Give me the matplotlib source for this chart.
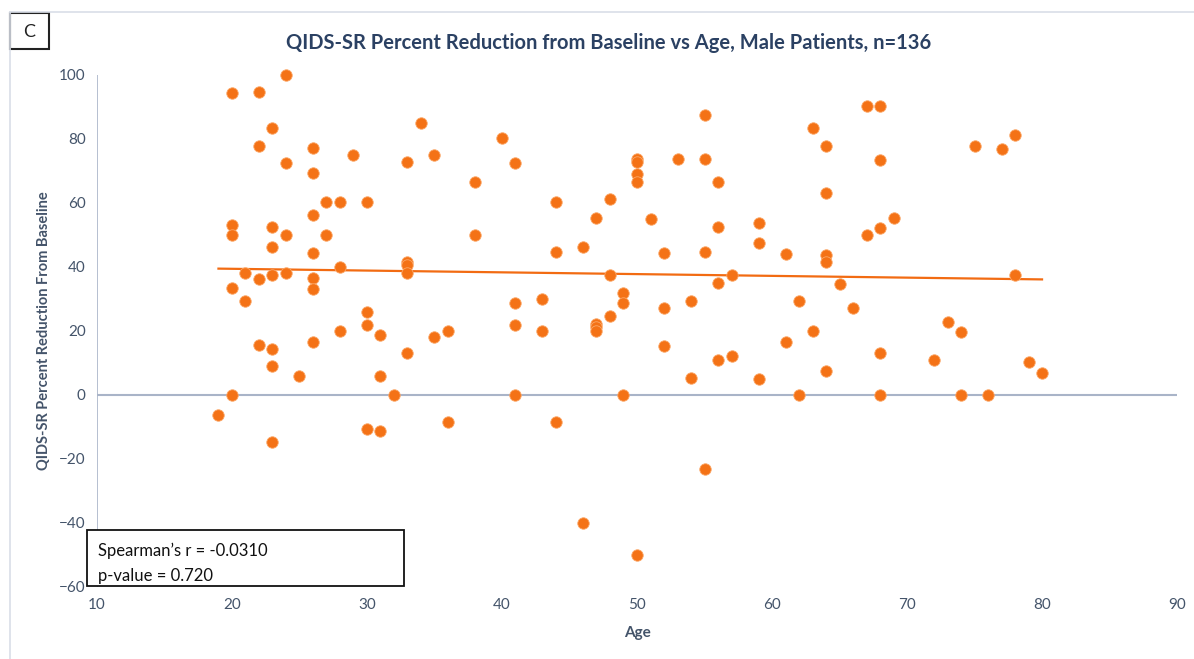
import numpy as np
import matplotlib.pyplot as plt
from matplotlib.patches import Rectangle
from matplotlib.lines import Line2D

# age of each male patient and QIDS-SR percent reduction from baseline
age = [19,
       20, 20, 20, 20, 20,
       21, 21,
       22, 22, 22, 22,
       23, 23, 23, 23, 23, 23, 23,
       24, 24, 24, 24,
       25,
       26, 26, 26, 26, 26, 26, 26,
       27, 27,
       28, 28, 28,
       29,
       30, 30, 30, 30,
       31, 31, 31,
       32,
       33, 33, 33, 33, 33,
       34,
       35, 35,
       36, 36,
       38, 38,
       40,
       41, 41, 41, 41,
       43, 43,
       44, 44, 44,
       46, 46,
       47, 47, 47, 47,
       48, 48, 48,
       49, 49, 49,
       50, 50, 50, 50, 50,
       51,
       52, 52, 52,
       53,
       54, 54,
       55, 55, 55, 55,
       56, 56, 56, 56,
       57, 57,
       59, 59, 59,
       61, 61,
       62, 62,
       63, 63,
       64, 64, 64, 64, 64,
       65,
       66,
       67, 67,
       68, 68, 68, 68, 68,
       69,
       72,
       73,
       74, 74,
       75,
       76,
       77,
       78, 78,
       79,
       80]

reduction = [-6.3,
             94.4, 53.1, 50.0, 33.3, 0.0,
             38.0, 29.4,
             94.7, 77.8, 36.2, 15.6,
             83.4, 52.5, 46.2, 37.5, 14.3, 9.0, -14.6,
             100.0, 72.5, 50.0, 38.0,
             5.9,
             77.2, 69.4, 56.2, 44.4, 36.6, 33.0, 16.7,
             60.3, 50.0,
             60.3, 40.0, 20.0,
             75.0,
             60.3, 26.0, 22.0, -10.7,
             18.6, 5.9, -11.2,
             0.0,
             72.8, 41.6, 40.5, 38.0, 13.2,
             85.0,
             75.0, 18.0,
             20.0, -8.4,
             66.6, 50.0,
             80.3,
             72.5, 28.6, 22.0, 0.0,
             30.0, 20.0,
             60.3, 44.7, -8.4,
             46.3, -40.0,
             55.3, 22.2, 21.2, 20.0,
             61.3, 37.5, 24.7,
             31.9, 28.6, 0.0,
             73.8, 72.8, 69.0, 66.6, -50.0,
             55.0,
             44.4, 27.1, 15.3,
             73.8,
             29.4, 5.3,
             87.5, 73.8, 44.7, -23.1,
             66.6, 52.5, 35.0, 10.9,
             37.5, 12.2,
             53.8, 47.5, 5.0,
             44.0, 16.6,
             29.4, 0.0,
             83.4, 20.0,
             77.8, 63.1, 43.8, 41.6, 7.5,
             34.8,
             27.1,
             90.3, 50.0,
             90.3, 73.4, 52.2, 13.1, 0.0,
             55.3,
             10.9,
             22.8,
             19.8, 0.0,
             77.8,
             0.0,
             77.0,
             81.3, 37.5,
             10.3,
             6.9]

x_ticks = [10, 20, 30, 40, 50, 60, 70, 80, 90]
y_ticks = [-60, -40, -20, 0, 20, 40, 60, 80, 100]

plt.rcParams['font.family'] = ['Lato', 'DejaVu Sans']

fig = plt.figure(figsize=(11.94, 6.59), dpi=100)
ax = fig.add_axes([0.0812, 0.1093, 0.9046, 0.7769])

orange = '#F47216'
label_col = '#44546A'
axis_col = '#A9B4C8'

ax.scatter(age, reduction, s=68, color=orange, edgecolors='#FBA767',
           linewidths=0.6, zorder=3, clip_on=False)

# linear trend line over the observed age range
slope, icpt = np.polyfit(age, reduction, 1)
xs = np.array([min(age), max(age)])
ax.plot(xs, slope * xs + icpt, color='#F26B12', lw=1.6, zorder=2)

ax.set_xlim(10, 90)
ax.set_ylim(-60, 100)
ax.set_xticks(x_ticks)
ax.set_yticks(y_ticks)
ax.tick_params(length=0, labelsize=11, labelcolor=label_col, pad=8)
for s in ax.spines.values():
    s.set_visible(False)
ax.axhline(0, color=axis_col, lw=1.5, zorder=1)
ax.axvline(10, color=axis_col, lw=1.2, zorder=1)

ax.set_xlabel('Age', fontsize=11, fontweight='bold', color=label_col, labelpad=10)
ax.set_ylabel('QIDS-SR Percent Reduction From Baseline', fontsize=10.5,
              fontweight='bold', color=label_col, labelpad=6)
fig.text(0.51, 0.935, 'QIDS-SR Percent Reduction from Baseline vs Age, Male Patients, n=136',
         ha='center', va='center', fontsize=14.5, fontweight='bold', color='#2B4163')

# outer chart border (top and left only)
fig.add_artist(Line2D([10 / 1194, 1], [1 - 12 / 659] * 2, color='#D9DEE8', lw=1.2))
fig.add_artist(Line2D([10 / 1194] * 2, [0, 1 - 12 / 659], color='#D9DEE8', lw=1.2))

# panel letter box
fig.add_artist(Rectangle((10 / 1194, 1 - 49 / 659), 39 / 1194, 36 / 659,
                         transform=fig.transFigure, fill=True, facecolor='white',
                         edgecolor='#222222', lw=1.5))
fig.text(29.5 / 1194, 1 - 32 / 659, 'C', ha='center', va='center', fontsize=13, color='#222222')

# statistics box
fig.add_artist(Rectangle((87 / 1194, 1 - 586 / 659), 317 / 1194, 56 / 659,
                         transform=fig.transFigure, facecolor='white',
                         edgecolor='#111111', lw=1.3, zorder=5))
fig.text(98 / 1194, 1 - 551 / 659, 'Spearman\u2019s r = -0.0310', ha='left', va='center',
         fontsize=12, color='#111111', zorder=6)
fig.text(98 / 1194, 1 - 576 / 659, 'p-value = 0.720', ha='left', va='center',
         fontsize=12, color='#111111', zorder=6)

plt.savefig('out.png', dpi=100)
